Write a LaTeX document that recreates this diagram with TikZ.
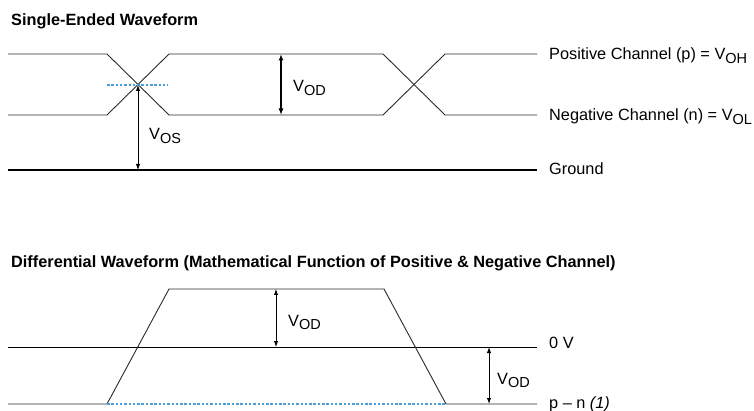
\documentclass[tikz,border=0pt]{standalone}
\usepackage{fontspec}
\setmainfont{Liberation Sans}
\usetikzlibrary{arrows.meta}
\newcommand{\sbs}[1]{\raisebox{-3.8pt}{\fontsize{14.5}{14.5}\selectfont #1}}
\definecolor{wave}{HTML}{2A2A2A}
\definecolor{dashblue}{HTML}{4C9ED6}
\begin{document}
\begin{tikzpicture}[x=1pt,y=-1pt,
  wav/.style={draw=wave,line width=0.9pt,line join=miter},
  gnd/.style={draw=black,line width=2pt},
  midline/.style={draw=black,line width=1pt},
  bluedash/.style={draw=dashblue,line width=1.2pt,dash pattern=on 2.5pt off 1.8pt},
  dim/.style={draw=black,line width=1pt,{Latex[length=6pt,width=4.5pt]}-{Latex[length=6pt,width=4.5pt]}},
  dimthick/.style={draw=black,line width=1.6pt,{Latex[length=6.5pt,width=5pt]}-{Latex[length=6.5pt,width=5pt]}},
  lbl/.style={anchor=base west,inner sep=0pt,font=\fontsize{16.3}{16.3}\selectfont},
  ttl/.style={anchor=base west,inner sep=0pt,font=\fontsize{16.3}{16.3}\selectfont\bfseries}]
\useasboundingbox (0,0) rectangle (754,411);
% titles
\node[ttl] (t1) at (11,26) {Single-Ended Waveform};
\node[ttl] (t2) at (11,268) {Differential Waveform (Mathematical Function of Positive \& Negative Channel)};
% top waveform coordinates
\coordinate (a0) at (8,54);   \coordinate (a1) at (107,54);
\coordinate (a2) at (169,115);\coordinate (a3) at (383,115);
\coordinate (a4) at (445,54); \coordinate (a5) at (537,54);
\coordinate (b0) at (8,115);  \coordinate (b1) at (107,115);
\coordinate (b2) at (169,54); \coordinate (b3) at (383,54);
\coordinate (b4) at (445,115);\coordinate (b5) at (537,115);
\coordinate (g0) at (8,170);  \coordinate (g1) at (537,170);
\coordinate (x0) at (138,85);
\coordinate (d0) at (107,85); \coordinate (d1) at (168,85);
\coordinate (vosb) at (138,170);
\coordinate (vodt) at (281,54); \coordinate (vodb) at (281,115);
\draw[wav] (a0) -- (a1) -- (a2) -- (a3) -- (a4) -- (a5);
\draw[wav] (b0) -- (b1) -- (b2) -- (b3) -- (b4) -- (b5);
\draw[gnd] (g0) -- (g1);
\draw[bluedash] (d0) -- (d1);
\draw[dim] (x0) -- (vosb);
\draw[dimthick] (vodt) -- (vodb);
\node[lbl] (lvod1) at (293,92) {V\sbs{OD}};
\node[lbl] (lvos) at (149,140) {V\sbs{OS}};
\node[lbl] (lp) at (549,60) {Positive Channel (p) = V\sbs{OH}};
\node[lbl] (ln) at (549,121) {Negative Channel (n) = V\sbs{OL}};
\node[lbl] (lg) at (549,175) {Ground};
% bottom waveform
\coordinate (z0) at (8,347);  \coordinate (z1) at (537,347);
\coordinate (c0) at (8,404);  \coordinate (c1) at (107,404);
\coordinate (c2) at (169,289);\coordinate (c3) at (384,289);
\coordinate (c4) at (446,404);\coordinate (c5) at (537,404);
\coordinate (e0) at (276,289);\coordinate (e1) at (276,347);
\coordinate (f0) at (489,347);\coordinate (f1) at (489,404);
\draw[midline] (z0) -- (z1);
\draw[wav] (c0) -- (c1) -- (c2) -- (c3) -- (c4) -- (c5);
\draw[bluedash] (c1) -- (c4);
\draw[dim] (e0) -- (e1);
\draw[dim] (f0) -- (f1);
\node[lbl] (lvod2) at (288,326) {V\sbs{OD}};
\node[lbl] (lvod3) at (497,384) {V\sbs{OD}};
\node[lbl] (l0v) at (549,348) {0 V};
\node[lbl] (lpn) at (549,408) {p -- n \textit{(1)}};
\end{tikzpicture}
\end{document}
